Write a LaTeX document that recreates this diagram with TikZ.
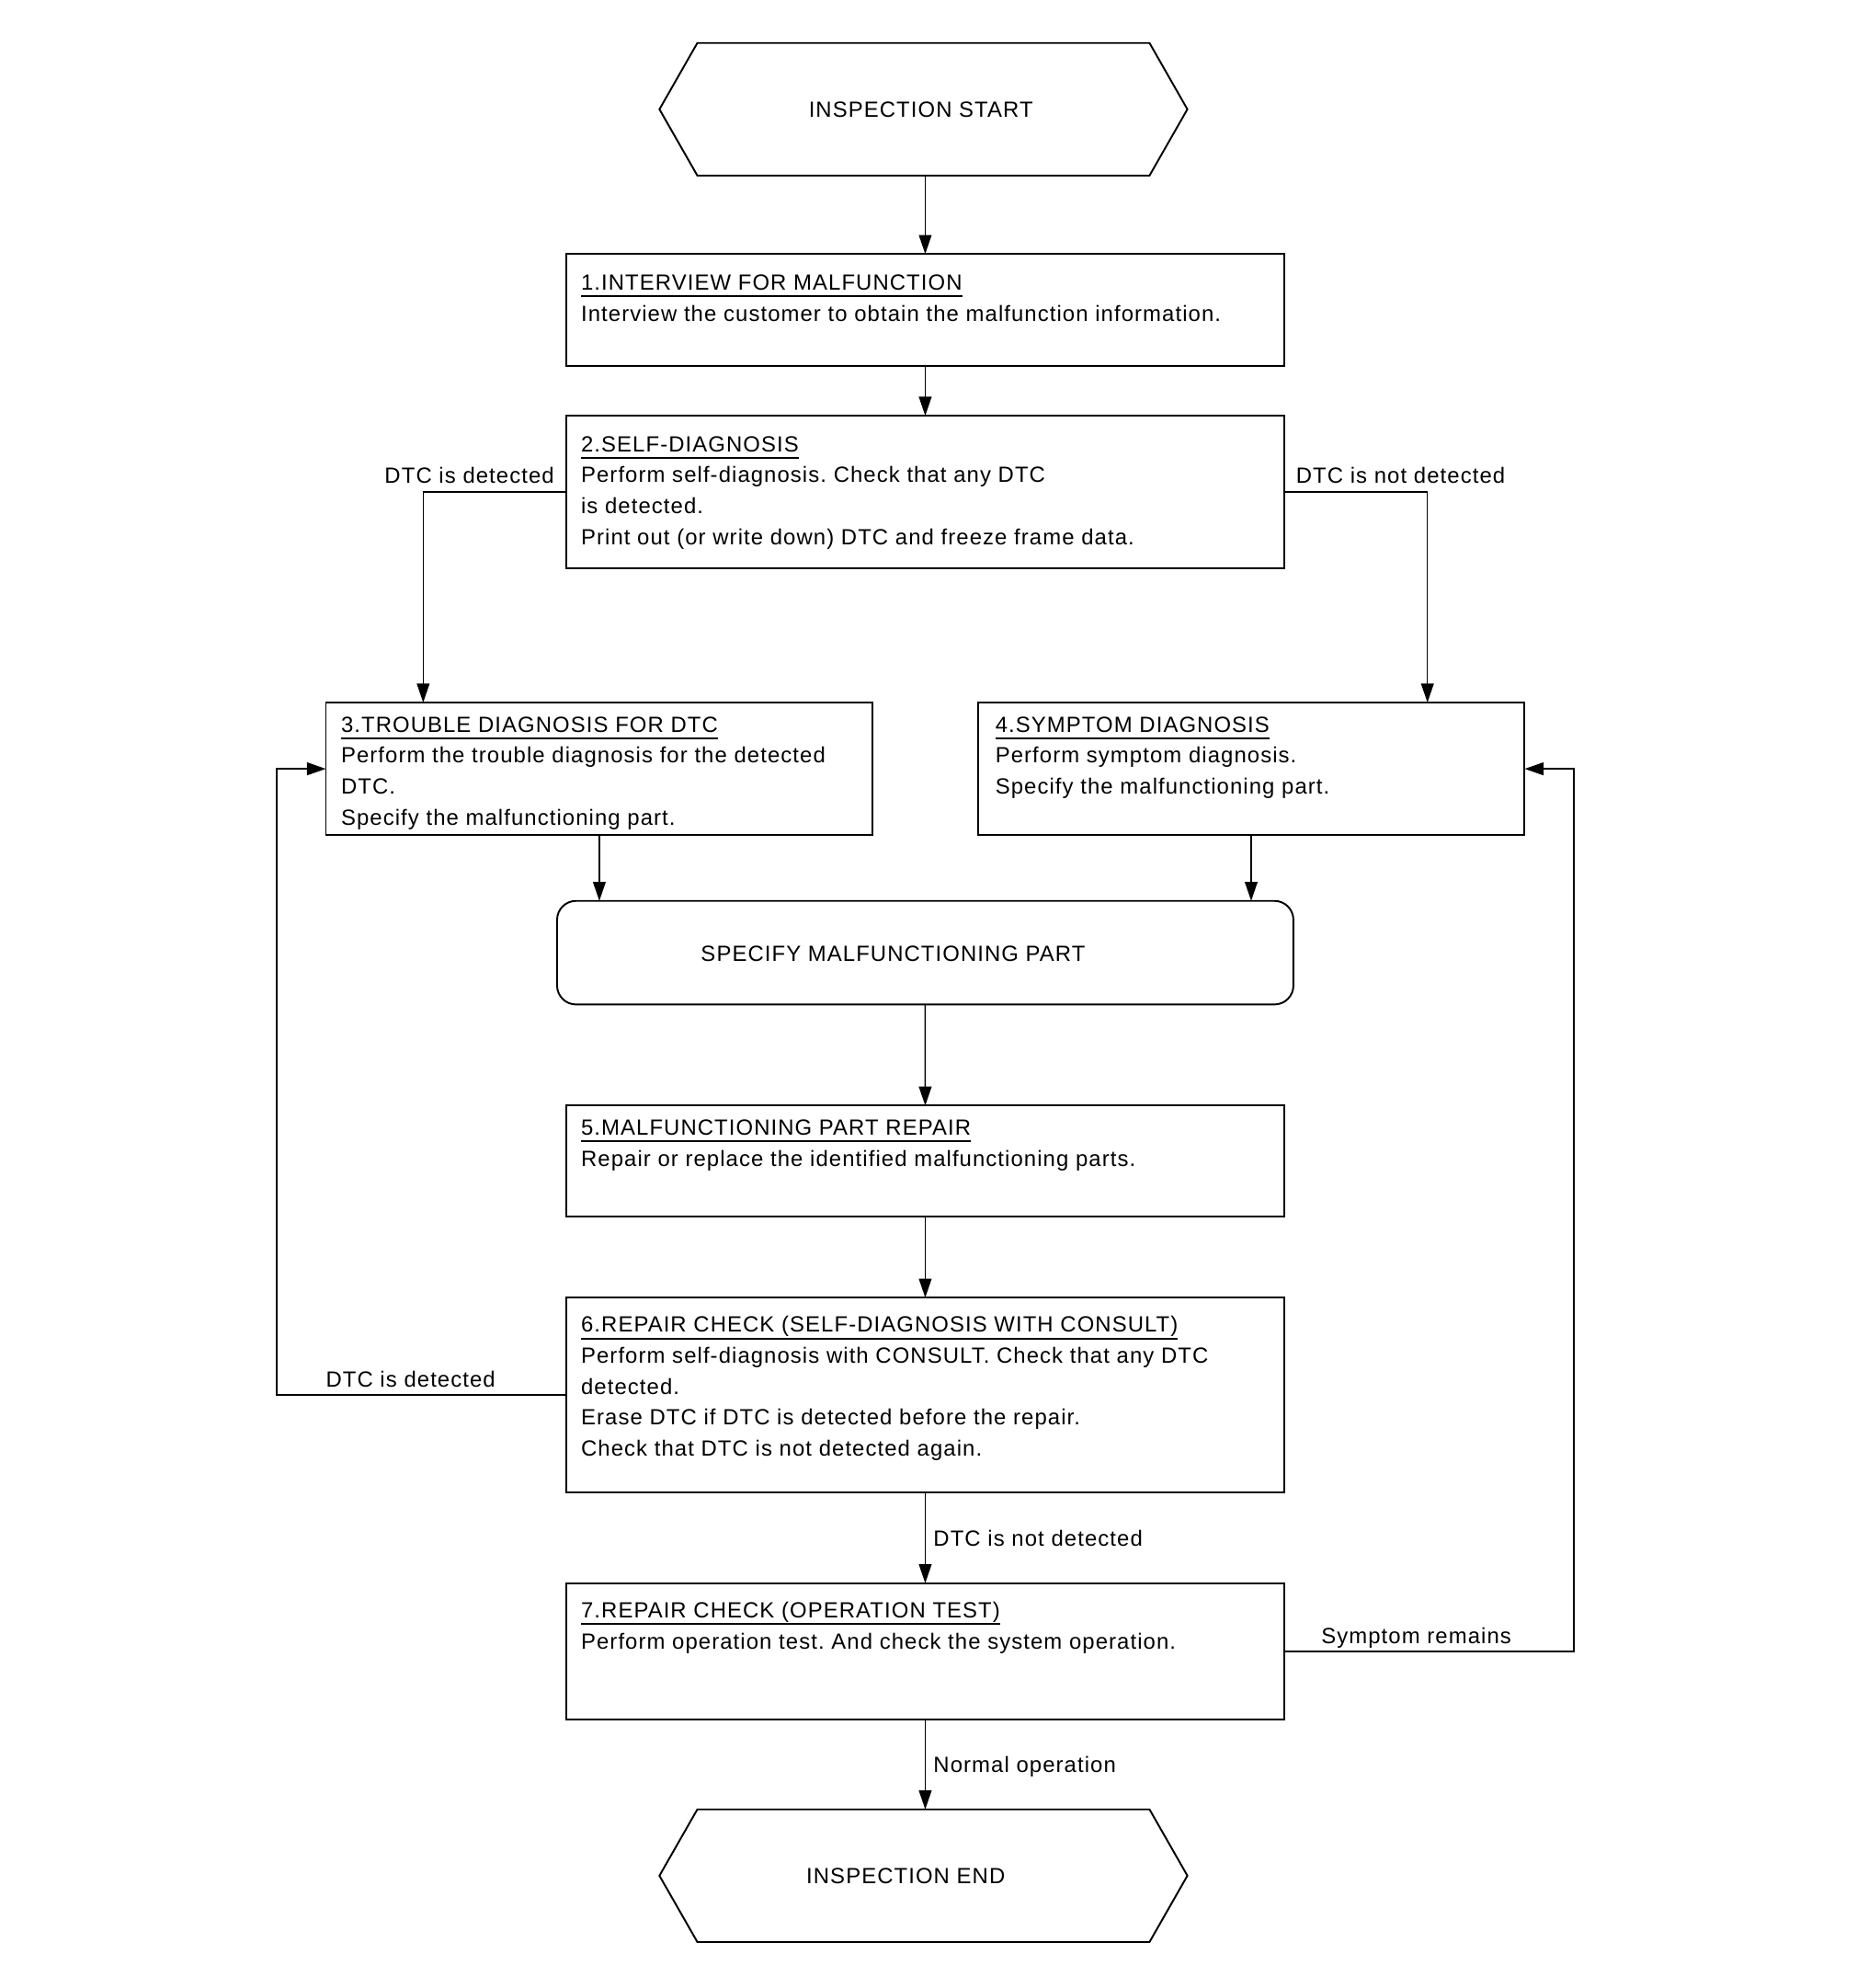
\documentclass[tikz,border=0pt]{standalone}
\usepackage{fontspec}
\setmainfont{Liberation Sans}[LetterSpace=4.5]
\usetikzlibrary{arrows.meta,calc}
\frenchspacing
\newcommand\ttl[1]{\setbox0\hbox{#1}\rlap{\rule[-3.2pt]{\wd0}{0.9pt}}\box0}
\newcommand\lns[1]{\vtop{\baselineskip=13.94pt\lineskiplimit=-20pt #1}}
\begin{document}
\begin{tikzpicture}[x=0.02cm,y=-0.02cm,
  font=\fontsize{9.9}{13.94}\selectfont,
  box/.style={draw, line width=0.8pt, inner sep=0pt, outer sep=0pt, anchor=north west},
  hexn/.style={inner sep=0pt, outer sep=0pt, minimum width=8.36cm, minimum height=2.1cm},
  hex/.style={draw, line width=0.8pt},
  txt/.style={anchor=base west, inner sep=0pt, outer sep=0pt},
  ctr/.style={inner sep=0pt, outer sep=0pt},
  arr/.style={-{Triangle[length=0.3cm,width=0.2cm]}, line width=0.6pt}]

\useasboundingbox (0,0) rectangle (1470,1573.4);

% start / end hexagons
\node[hexn] (start) at (731,86.5) {};
\draw[hex] (start.west) -- ($(start.north west)+(30,0)$) -- ($(start.north east)+(-30,0)$) -- (start.east) -- ($(start.south east)+(-30,0)$) -- ($(start.south west)+(30,0)$) -- cycle;
\node[ctr] (startt) at (729,87) {INSPECTION START};

\node[hexn] (end) at (731,1484.5) {};
\draw[hex] (end.west) -- ($(end.north west)+(30,0)$) -- ($(end.north east)+(-30,0)$) -- (end.east) -- ($(end.south east)+(-30,0)$) -- ($(end.south west)+(30,0)$) -- cycle;
\node[ctr] (endt) at (717,1485) {INSPECTION END};

% boxes
\node[box, minimum width=11.38cm, minimum height=1.78cm] (b1) at (448,201) {};
\node[txt] (t1) at (460,229.5) {\lns{\hbox{\ttl{1.INTERVIEW FOR MALFUNCTION}}\hbox{Interview the customer to obtain the malfunction information.}}};

\node[box, minimum width=11.38cm, minimum height=2.42cm] (b2) at (448,329) {};
\node[txt] (t2) at (460,357.5) {\lns{\hbox{\ttl{2.SELF-DIAGNOSIS}}\hbox{Perform self-diagnosis. Check that any DTC}\hbox{is detected.}\hbox{Print out (or write down) DTC and freeze frame data.}}};

\node[box, minimum width=8.66cm, minimum height=2.1cm] (b3) at (258,556) {};
\node[txt] (t3) at (270,579.5) {\lns{\hbox{\ttl{3.TROUBLE DIAGNOSIS FOR DTC}}\hbox{Perform the trouble diagnosis for the detected}\hbox{DTC.}\hbox{Specify the malfunctioning part.}}};

\node[box, minimum width=8.66cm, minimum height=2.1cm] (b4) at (774,556) {};
\node[txt] (t4) at (788,579.5) {\lns{\hbox{\ttl{4.SYMPTOM DIAGNOSIS}}\hbox{Perform symptom diagnosis.}\hbox{Specify the malfunctioning part.}}};

\node[box, rounded corners=0.3cm, minimum width=11.66cm, minimum height=1.64cm] (spec) at (441,713) {};
\node[ctr] (spect) at (707,755) {SPECIFY MALFUNCTIONING PART};

\node[box, minimum width=11.38cm, minimum height=1.76cm] (b5) at (448,875) {};
\node[txt] (t5) at (460,898.5) {\lns{\hbox{\ttl{5.MALFUNCTIONING PART REPAIR}}\hbox{Repair or replace the identified malfunctioning parts.}}};

\node[box, minimum width=11.38cm, minimum height=3.08cm] (b6) at (448,1027) {};
\node[txt] (t6) at (460,1054.5) {\lns{\hbox{\ttl{6.REPAIR CHECK (SELF-DIAGNOSIS WITH CONSULT)}}\hbox{Perform self-diagnosis with CONSULT. Check that any DTC}\hbox{detected.}\hbox{Erase DTC if DTC is detected before the repair.}\hbox{Check that DTC is not detected again.}}};

\node[box, minimum width=11.38cm, minimum height=2.16cm] (b7) at (448,1253) {};
\node[txt] (t7) at (460,1280.5) {\lns{\hbox{\ttl{7.REPAIR CHECK (OPERATION TEST)}}\hbox{Perform operation test. And check the system operation.}}};

% connector end points
\coordinate (c3in) at (335,556);
\coordinate (c4in) at (1130,556);

% connectors
\draw[arr] (b1.north |- start.south) -- (b1.north);
\draw[arr] (b1.south) -- (b2.north);
\draw[arr] (b2.west) -| (c3in);
\draw[arr] (b2.east) -| (c4in);
\draw[arr] (b3.south) -- (b3.south |- spec.north);
\draw[arr] (b4.south) -- (b4.south |- spec.north);
\draw[arr] (spec.south) -- (b5.north);
\draw[arr] (b5.south) -- (b6.north);
\draw[arr] (b6.south) -- (b7.north);
\draw[arr] (b7.south) -- (end.north -| b7.south);
\draw[arr, line width=0.8pt] (b6.west) -- ++(-229,0) |- (b3.west);
\draw[arr, line width=0.8pt] (b7.east) -- ++(229,0) |- (b4.east);

% labels
\node[anchor=base east, inner sep=0pt] (l1) at (439,382.5) {DTC is detected};
\node[txt] (l2) at (1026,382.5) {DTC is not detected};
\node[txt] (l3) at (258,1097.5) {DTC is detected};
\node[txt] (l4) at (739,1223.5) {DTC is not detected};
\node[txt] (l5) at (1046,1300.5) {Symptom remains};
\node[txt] (l6) at (739,1402.5) {Normal operation};
\end{tikzpicture}
\end{document}
